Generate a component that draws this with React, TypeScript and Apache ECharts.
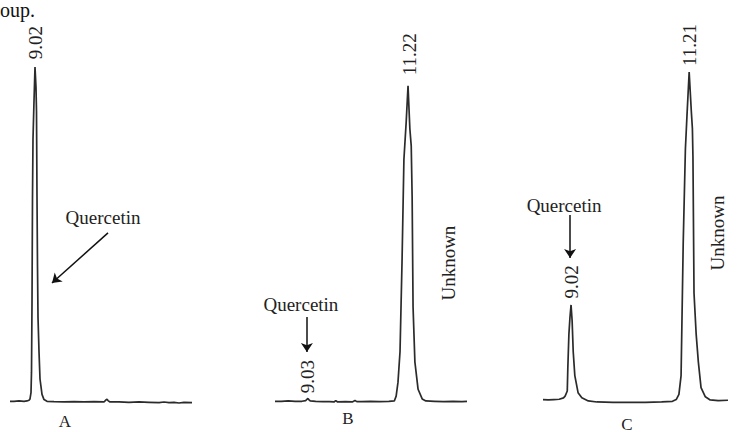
import React, { useEffect, useRef } from "react";
import * as echarts from "echarts";

// Panel A: standard (quercetin)
const timeA = [8.52, 8.6, 8.7, 8.8, 8.86, 8.9, 8.92, 8.94, 8.95, 8.96, 8.97, 8.98, 9.0, 9.02, 9.04, 9.05, 9.06, 9.07, 9.08, 9.1, 9.12, 9.16, 9.2, 9.26, 9.4, 9.6, 9.8, 10.0, 10.2, 10.4, 10.44, 10.46, 10.48, 10.52, 10.7, 10.9, 11.1, 11.3, 11.5, 11.6, 11.7, 11.8, 11.9, 12.0, 12.16];
const signalA = [0.5, 0.5, 0.6, 0.5, 0.6, 0.8, 1.2, 3, 9, 29, 60, 77, 88, 98, 92, 85, 60, 40, 25, 15, 7, 2.5, 1, 0.5, 0.4, 0.3, 0.4, 0.3, 0.4, 0.3, 0.9, 1.1, 0.7, 0.3, 0.3, 0.2, 0.3, 0.2, 0.1, 0.3, 0.1, 0.2, 0.0, 0.2, 0.1];

// Panel B: sample
const timeB = [8.31, 8.45, 8.6, 8.75, 8.9, 8.98, 9.01, 9.03, 9.05, 9.08, 9.2, 9.35, 9.5, 9.6, 9.64, 9.68, 9.85, 10.0, 10.06, 10.1, 10.2, 10.4, 10.6, 10.8, 10.92, 10.96, 11.0, 11.045, 11.09, 11.13, 11.18, 11.22, 11.26, 11.29, 11.31, 11.33, 11.37, 11.44, 11.53, 11.61, 11.8, 12.0, 12.2, 12.4, 12.51];
const signalB = [0.5, 0.5, 0.6, 0.5, 0.5, 0.7, 1.1, 1.3, 1.0, 0.6, 0.5, 0.4, 0.4, 0.3, 0.7, 0.3, 0.4, 0.3, 0.7, 0.4, 0.4, 0.5, 0.4, 0.5, 0.6, 2, 6, 15, 42, 71, 82, 92.5, 80, 75, 60, 28, 12, 4, 1.2, 0.6, 0.5, 0.4, 0.5, 0.4, 0.5];

// Panel C: spiked sample
const timeC = [8.5, 8.6, 8.7, 8.8, 8.88, 8.91, 8.95, 8.96, 8.98, 9.0, 9.02, 9.04, 9.06, 9.09, 9.15, 9.22, 9.34, 9.5, 9.8, 10.1, 10.4, 10.7, 10.9, 10.97, 11.02, 11.06, 11.1, 11.14, 11.17, 11.21, 11.25, 11.27, 11.28, 11.3, 11.34, 11.38, 11.43, 11.51, 11.6, 11.75, 11.93];
const signalC = [1.0, 0.9, 1.0, 1.1, 1.5, 2, 3.5, 10, 20, 25, 28.6, 24, 15, 8, 3, 1.5, 0.6, 0.3, 0.2, 0.2, 0.2, 0.3, 0.5, 1, 2.5, 8, 47, 74, 84, 96.5, 85, 80, 72, 32, 20, 12, 4.5, 1.8, 0.9, 0.7, 0.8];

// Peak retention time labels
const peakLabelsA = ["9.02"];
const peakLabelsB = ["9.03", "11.22"];
const peakLabelsC = ["9.02", "11.21"];
const peakTimesA = [9.02];
const peakTimesB = [9.03, 11.22];
const peakTimesC = [9.02, 11.21];
const panelNames = ["A", "B", "C"];

const FONT = "Liberation Serif";
const INK = "#222";
const LINE = "#2b2b2b";

function pairs(t: number[], v: number[]) {
  return t.map((x, i) => [x, v[i]]);
}

function rotLabel(text: string, coord: number[]) {
  return {
    coord,
    symbolSize: 0,
    label: {
      show: true,
      position: "inside",
      formatter: text,
      rotate: 90,
      fontFamily: FONT,
      fontSize: 19,
      color: INK,
    },
  };
}

function flatLabel(text: string, coord: number[]) {
  return {
    coord,
    symbolSize: 0,
    label: {
      show: true,
      position: "inside",
      formatter: text,
      fontFamily: FONT,
      fontSize: 19,
      color: INK,
    },
  };
}

function arrow(from: number[], to: number[]) {
  return [{ coord: from }, { coord: to }];
}

export default function App() {
  const ref = useRef<HTMLDivElement>(null);

  useEffect(() => {
    if (!ref.current) return;
    const chart = echarts.init(ref.current, null, { renderer: "svg" });
    const grids = [
      { left: 10, width: 182, top: 20, bottom: 29 },
      { left: 275, width: 192, top: 20, bottom: 29 },
      { left: 543, width: 185, top: 20, bottom: 29 },
    ];
    const xRanges = [
      [8.52, 12.16],
      [8.31, 12.51],
      [8.5, 11.93],
    ];
    const markLineBase = {
      silent: true,
      symbol: ["none", "arrow"],
      symbolSize: 9,
      lineStyle: { color: "#111", width: 1.5, type: "solid" },
      label: { show: false },
    };
    const markPointBase = { silent: true, symbol: "circle", symbolSize: 0 };

    const option: any = {
      animation: false,
      backgroundColor: "#fff",
      grid: grids,
      xAxis: xRanges.map((r, i) => ({
        type: "value",
        gridIndex: i,
        min: r[0],
        max: r[1],
        show: false,
      })),
      yAxis: grids.map((_, i) => ({
        type: "value",
        gridIndex: i,
        min: 0,
        max: 111.7,
        show: false,
      })),
      series: [
        {
          type: "line",
          xAxisIndex: 0,
          yAxisIndex: 0,
          data: pairs(timeA, signalA),
          showSymbol: false,
          clip: false,
          lineStyle: { color: LINE, width: 1.7 },
          markPoint: {
            ...markPointBase,
            data: [
              rotLabel(peakLabelsA[0], [peakTimesA[0], 105.1]),
              flatLabel("Quercetin", [10.38, 54.2]),
            ],
          },
          markLine: {
            ...markLineBase,
            data: [arrow([10.48, 49.6], [9.36, 35.0])],
          },
        },
        {
          type: "line",
          xAxisIndex: 1,
          yAxisIndex: 1,
          data: pairs(timeB, signalB),
          showSymbol: false,
          clip: false,
          lineStyle: { color: LINE, width: 1.7 },
          markPoint: {
            ...markPointBase,
            data: [
              rotLabel(peakLabelsB[0], [peakTimesB[0], 7.7]),
              rotLabel(peakLabelsB[1], [peakTimesB[1] + 0.03, 101.7]),
              rotLabel("Unknown", [12.1, 40.8]),
              flatLabel("Quercetin", [8.877, 28.6]),
            ],
          },
          markLine: {
            ...markLineBase,
            data: [arrow([9.008, 25.1], [9.008, 14.9])],
          },
        },
        {
          type: "line",
          xAxisIndex: 2,
          yAxisIndex: 2,
          data: pairs(timeC, signalC),
          showSymbol: false,
          clip: false,
          lineStyle: { color: LINE, width: 1.7 },
          markPoint: {
            ...markPointBase,
            data: [
              rotLabel(peakLabelsC[0], [peakTimesC[0], 35.3]),
              rotLabel(peakLabelsC[1], [peakTimesC[1], 104.4]),
              rotLabel("Unknown", [11.73, 49.6]),
              flatLabel("Quercetin", [8.891, 57.7]),
            ],
          },
          markLine: {
            ...markLineBase,
            data: [arrow([9.002, 54.8], [9.002, 42.3])],
          },
        },
      ],
      graphic: [
        {
          type: "text",
          left: 0,
          top: 0,
          style: { text: "oup.", font: `20px "${FONT}"`, fill: "#111" },
        },
        {
          type: "text",
          x: 65,
          y: 421,
          style: { text: panelNames[0], font: `17px "${FONT}"`, fill: INK, align: "center", verticalAlign: "middle" },
        },
        {
          type: "text",
          x: 348,
          y: 418,
          style: { text: panelNames[1], font: `17px "${FONT}"`, fill: INK, align: "center", verticalAlign: "middle" },
        },
        {
          type: "text",
          x: 627,
          y: 424,
          style: { text: panelNames[2], font: `17px "${FONT}"`, fill: INK, align: "center", verticalAlign: "middle" },
        },
      ],
    };
    chart.setOption(option);
    return () => chart.dispose();
  }, []);

  return (
    <div
      ref={ref}
      style={{ position: "fixed", left: 0, top: 0, width: 738, height: 432, background: "#fff" }}
    />
  );
}
